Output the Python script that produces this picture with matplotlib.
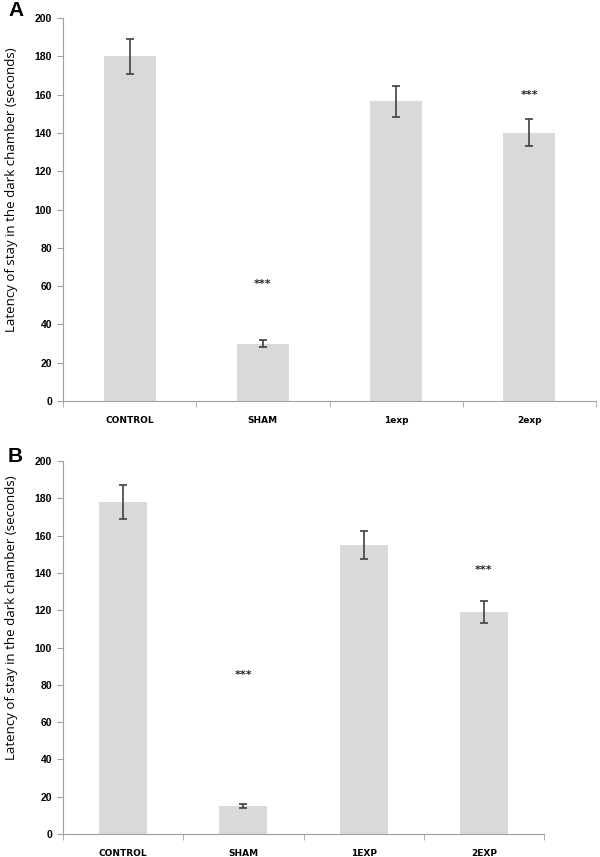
import matplotlib
matplotlib.use("Agg")
import matplotlib.pyplot as plt
import numpy as np

cats_a = ["CONTROL", "SHAM", "1exp", "2exp"]
vals_a = [180, 30, 156.5, 140]
err_a = [9, 2, 8, 7]
stars_a = ["", "***", "", "***"]
star_y_a = [None, 61, None, 160]

cats_b = ["CONTROL", "SHAM", "1EXP", "2EXP"]
vals_b = [178, 15, 155, 119]
err_b = [9, 1, 7.5, 6]
stars_b = ["", "***", "", "***"]
star_y_b = [None, 85, None, 141.5]

yticks = [0, 20, 40, 60, 80, 100, 120, 140, 160, 180, 200]
ylabel = "Latency of stay in the dark chamber (seconds)"

W, H = 600, 857
fig = plt.figure(figsize=(6, 8.57), dpi=100)

def make(rect, cats, vals, errs, stars, stary, letter, letter_xy, label_y, bw):
    ax = fig.add_axes(rect)
    x = np.arange(len(cats))
    ax.bar(x, vals, width=bw, color="#d9d9d9", edgecolor="none", zorder=2)
    ax.errorbar(x, vals, yerr=errs, fmt="none", ecolor="#404040",
                elinewidth=1.2, capsize=3, capthick=1.2, zorder=3)
    for xi, s, sy in zip(x, stars, stary):
        if s:
            ax.text(xi, sy, s, ha="center", va="center", fontsize=8,
                    fontweight="bold", color="#222222")
    ax.set_xlim(-0.5, len(cats) - 0.5)
    ax.set_ylim(0, 200)
    ax.set_yticks(yticks)
    ax.set_yticklabels([str(t) for t in yticks], fontsize=7.5, fontweight="bold",
                       family="Liberation Sans")
    ax.set_xticks(x)
    ax.set_xticklabels(cats, fontsize=6.5, fontweight="bold", family="Liberation Sans Narrow")
    ax.tick_params(axis="x", which="major", length=0, pad=11)
    ax.set_xticks(np.arange(len(cats) + 1) - 0.5, minor=True)
    ax.tick_params(axis="x", which="minor", length=4, color="#a0a0a0", direction="out")
    ax.tick_params(axis="y", length=4, color="#a0a0a0", direction="out", pad=4)
    for sp in ["top", "right"]:
        ax.spines[sp].set_visible(False)
    for sp in ["left", "bottom"]:
        ax.spines[sp].set_color("#a0a0a0")
        ax.spines[sp].set_linewidth(0.8)
    ax.set_ylabel(ylabel, fontsize=9.5, family="Open Sans")
    ax.yaxis.set_label_coords(18 / W, 1 - label_y / H, transform=fig.transFigure)
    fig.text(letter_xy[0] / W, 1 - letter_xy[1] / H, letter, fontsize=15,
             fontweight="bold", family="Liberation Sans", ha="left", va="center")
    return ax

make([63 / W, 1 - 401 / H, (596 - 63) / W, 383 / H], cats_a, vals_a, err_a,
     stars_a, star_y_a, "A", (8, 10), 190, 0.39)
make([63 / W, 1 - 834 / H, (544 - 63) / W, 373 / H], cats_b, vals_b, err_b,
     stars_b, star_y_b, "B", (8, 457), 618, 0.4)

fig.savefig("out.png", dpi=100)
